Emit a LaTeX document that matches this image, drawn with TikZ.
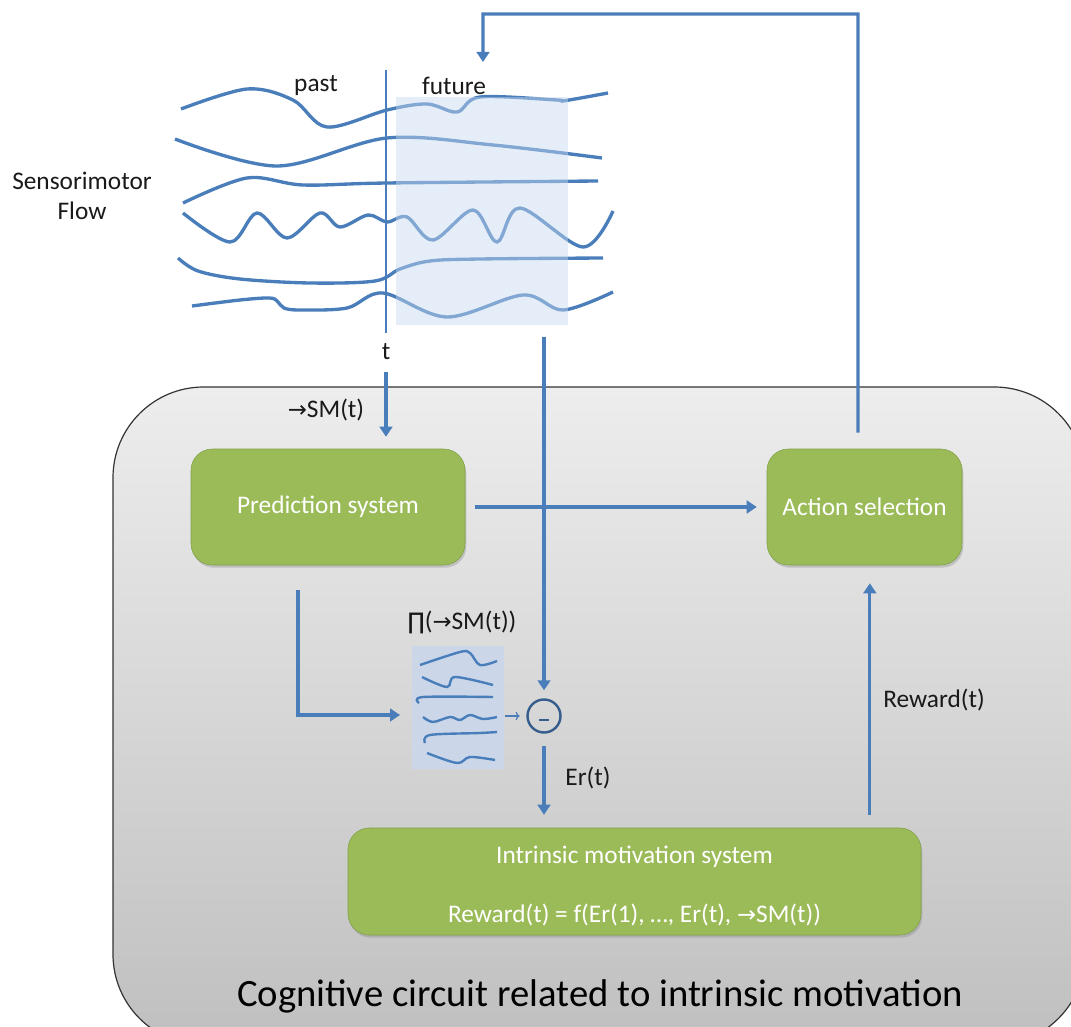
\documentclass[tikz,border=0pt]{standalone}
\usepackage{fontspec}
\setmainfont{Carlito}
\newfontfamily\symfont[Scale=0.9]{DejaVu Sans}
\usetikzlibrary{arrows.meta,shadows}

\newcommand{\rarr}{{\symfont →}}
\newcommand{\bigprod}{{\symfont ∏}}

\definecolor{flowblue}{RGB}{74,126,187}
\definecolor{boxgreen}{RGB}{155,187,89}
\definecolor{boxedge}{RGB}{128,160,70}
\definecolor{minusblue}{RGB}{52,92,140}
\definecolor{futureblue}{RGB}{198,217,240}
\definecolor{thumbblue}{RGB}{203,215,232}

\tikzset{
  flow/.style={draw=flowblue, line width=2.3pt, -{Triangle[width=9.5pt,length=7.5pt]}},
  wave/.style={flowblue, line width=2.5pt},
  smallwave/.style={flowblue, line width=1.8pt},
  greenbox/.style={draw=boxedge, fill=boxgreen, rounded corners=16pt, text=white,
    font=\fontsize{19}{23}\selectfont,
    drop shadow={opacity=0.35, shadow xshift=1pt, shadow yshift=-2pt}},
  boxtext/.style={text=white, font=\fontsize{19}{23}\selectfont},
  txt/.style={text=black!90, font=\fontsize{19}{23}\selectfont},
}

\begin{document}
\begin{tikzpicture}[x=0.75pt,y=-0.75pt]
  \useasboundingbox (0,0) rectangle (1071,1027);
  \clip (0,0) rectangle (1071,1027);

  % Drawing the circuit frame
  \draw[black!80, line width=0.9pt, rounded corners=68pt, top color=black!7, bottom color=black!25]
    (113,387) rectangle (1085,1045);
  \node[font=\fontsize{29}{35}\selectfont] (title) at (600,996) {Cognitive circuit related to intrinsic motivation};

  % Drawing sensorimotor flow
  \node[txt] (smname) at (82,181) {Sensorimotor};
  \node[txt] (flowname) at (82,211) {Flow};
  \node[txt] (past) at (316,86) {past};
  \node[txt] (future) at (454,86) {future};
  \draw[wave] plot[smooth, tension=0.55] coordinates {(181,109) (247,89) (293,100) (327,127) (387,110) (427,104) (457,112) (480,97) (557,100) (563,101) (608,93)};
  \draw[wave] plot[smooth, tension=0.55] coordinates {(175,139) (277,166) (387,138) (493,145) (602,158)};
  \draw[wave] plot[smooth, tension=0.55] coordinates {(183,203) (247,178) (303,185) (387,183) (598,181)};
  \draw[wave] plot[smooth, tension=0.55] coordinates {(183,213) (230,242) (257,213) (287,238) (320,213) (340,227) (368,215) (387,222) (407,217) (433,240) (473,210) (497,242) (520,208) (583,247) (613,211)};
  \draw[wave] plot[smooth, tension=0.55] coordinates {(178,258) (198,271) (240,279) (310,283) (375,281) (400,269) (430,261) (480,259) (603,258)};
  \draw[wave] plot[smooth, tension=0.55] coordinates {(192,306) (240,300) (270,298) (278,302) (284,308) (300,310) (347,308) (383,293) (447,317) (523,295) (563,310) (613,292)};
  \fill[futureblue, opacity=0.45] (396,97) rectangle (568,325);

  % Marking time t
  \coordinate (ttop) at (386,70);
  \coordinate (tbot) at (386,333);
  \draw[flowblue, line width=1.7pt] (ttop) -- (tbot);
  \node[txt] (tname) at (386,352) {t};

  % Drawing the boxes
  \node[greenbox, minimum width={274*0.75pt}, minimum height={116*0.75pt}] (pred) at (328,507) {Prediction system};
  \node[greenbox, minimum width={195*0.75pt}, minimum height={116*0.75pt}] (act) at (864.5,507) {Action selection};
  \node[greenbox, minimum width={573*0.75pt}, minimum height={107*0.75pt}] (intr) at (634.5,881.5) {};
  \node[boxtext] (intrname) at (634.5,857) {Intrinsic motivation system};
  \node[boxtext] (intrrule) at (634.5,915) {Reward(t) = f(Er(1), …, Er(t), \rarr SM(t))};

  % Drawing the predicted flow
  \node[fill=thumbblue, minimum width={92*0.75pt}, minimum height={123*0.75pt}, inner sep=0pt] (thumb) at (458,707) {};
  \node[txt] (thumbname) at (462,622) {\bigprod(\rarr SM(t))};
  \draw[smallwave] plot[smooth, tension=0.55] coordinates {(420,665) (460,652) (470,653) (480,665) (497,661)};
  \draw[smallwave] plot[smooth, tension=0.55] coordinates {(422,677) (447,687) (455,677) (493,685)};
  \draw[smallwave] plot[smooth, tension=0.55] coordinates {(419,703) (423,697) (493,697)};
  \draw[smallwave] plot[smooth, tension=0.55] coordinates {(423,717) (433,722) (450,717) (460,720) (470,715) (483,719) (497,717)};
  \draw[smallwave] plot[smooth, tension=0.55] coordinates {(425,743) (430,735) (480,733) (497,732)};
  \draw[smallwave] plot[smooth, tension=0.55] coordinates {(427,753) (457,763) (470,757) (495,760)};

  % Drawing the comparator
  \node[circle, draw=minusblue, line width=1.8pt, minimum size={33*0.75pt}, inner sep=0pt] (minus) at (544,716) {};
  \draw[minusblue, line width=2.2pt] ([xshift=-3.8pt, yshift=-3pt]minus.center) -- ([xshift=3.8pt, yshift=-3pt]minus.center);

  % Drawing connectors
  \coordinate (smin) at (386,372);
  \node[txt] (smname2) at (326,410) {\rarr SM(t)};
  \draw[flow, shorten >=9pt] (smin) -- (smin |- pred.north);
  \draw[flow, shorten <=7.5pt, shorten >=7.5pt] (pred.east) -- (act.west);
  \coordinate (pout) at (298,590);
  \coordinate (thumbin) at (400,715);
  \draw[flow] (pout) |- (thumbin);
  \draw[flowblue, line width=0.9pt, -{To[length=3pt]}, shorten <=0.75pt, shorten >=5pt] (thumb.east |- minus.west) -- (minus.west);
  \coordinate (futout) at (544,337);
  \draw[flow, shorten >=6pt] (futout) -- (minus.north);
  \draw[flow, shorten <=9.5pt, shorten >=9.75pt] (minus.south) -- (minus.south |- intr.north);
  \node[txt] (ername) at (588,778) {Er(t)};
  \draw[flow, shorten <=9.75pt, shorten >=13.5pt] ([xshift=4pt]act.south |- intr.north) -- ([xshift=4pt]act.south);
  \node[txt] (rwname) at (934,700) {Reward(t)};
  \coordinate (fbtop) at (858,14);
  \coordinate (fbleft) at (483,14);
  \coordinate (fbin) at (483,62);
  \draw[flow, shorten <=12pt] ([xshift=-4.9pt]act.north) -- (fbtop) -- (fbleft) -- (fbin);
\end{tikzpicture}
\end{document}
